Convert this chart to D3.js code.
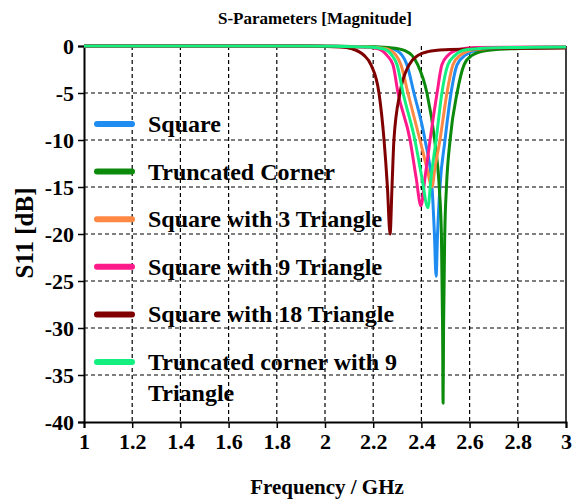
<!DOCTYPE html>
<html>
<head>
<meta charset="utf-8">
<title>S-Parameters [Magnitude]</title>
<script src="https://cdn.jsdelivr.net/npm/d3@7"></script>
<style>
  body { margin: 0; background: #fff; }
  text { font-family: "Liberation Serif", "Times New Roman", serif; font-weight: bold; fill: #000; }
</style>
</head>
<body>
<div id="chart"></div>
<script>
// frequency (GHz), S11 (dB)
var square = [[1,0],[1.9,0],[2.2,-0.1],[2.278,-0.3],[2.32,-1],[2.34,-2],[2.369,-5],[2.415,-10],[2.444,-15],[2.454,-20],[2.461,-24.5],[2.467,-20],[2.477,-15],[2.498,-10],[2.523,-5],[2.548,-2],[2.581,-1],[2.643,-0.4],[2.768,-0.2],[3,-0.1]];
var truncCorner = [[1,0],[1.9,0],[2.2,-0.08],[2.278,-0.2],[2.332,-0.5],[2.361,-1],[2.385,-2],[2.423,-5],[2.455,-10],[2.474,-15],[2.483,-20],[2.488,-30],[2.49,-38],[2.492,-30],[2.497,-20],[2.504,-15],[2.519,-10],[2.548,-5],[2.577,-2],[2.61,-1],[2.664,-0.5],[2.768,-0.3],[3,-0.15]];
var sq3 = [[1,0],[1.9,0],[2.18,-0.1],[2.253,-0.3],[2.295,-1],[2.315,-2],[2.344,-5],[2.394,-10],[2.423,-13],[2.444,-15],[2.456,-13],[2.477,-10],[2.506,-5],[2.531,-2],[2.56,-1],[2.618,-0.4],[2.726,-0.2],[3,-0.1]];
var sq9 = [[1,0],[1.9,0],[2.15,-0.1],[2.22,-0.3],[2.257,-1],[2.282,-2],[2.303,-5],[2.353,-10],[2.378,-14],[2.398,-17],[2.415,-14],[2.436,-10],[2.465,-5],[2.485,-2],[2.51,-1],[2.552,-0.4],[2.62,-0.15],[3,-0.1]];
var sq18 = [[1,0],[1.9,0],[2.062,-0.1],[2.112,-0.3],[2.162,-1],[2.191,-2],[2.224,-5],[2.245,-10],[2.259,-15],[2.27,-20],[2.278,-15],[2.286,-10],[2.311,-5],[2.349,-2],[2.386,-1],[2.427,-0.6],[2.498,-0.4],[2.643,-0.3],[3,-0.2]];
var trunc9 = [[1,0],[1.9,0],[2.17,-0.1],[2.241,-0.3],[2.278,-1],[2.299,-2],[2.324,-5],[2.373,-10],[2.402,-14],[2.427,-17.2],[2.44,-14],[2.461,-10],[2.485,-5],[2.51,-2],[2.539,-1],[2.585,-0.4],[2.685,-0.2],[3,-0.1]];

var seriesNames = ["Square", "Truncated Corner", "Square with 3 Triangle", "Square with 9 Triangle", "Square with 18 Triangle", "Truncated corner with 9 Triangle"];
var seriesData = [square, truncCorner, sq3, sq9, sq18, trunc9];
var seriesColors = ["#1f8cf2", "#0b8a0b", "#ff8844", "#ff1a8c", "#800000", "#14f080"];

var xTicks = [1, 1.2, 1.4, 1.6, 1.8, 2, 2.2, 2.4, 2.6, 2.8, 3];
var yTicks = [0, -5, -10, -15, -20, -25, -30, -35, -40];

var W = 575, H = 500;
var plotLeft = 84, plotRight = 566, plotTop = 46, plotBottom = 422;

var svg = d3.select("#chart").append("svg")
    .attr("width", W)
    .attr("height", H);

var x = d3.scaleLinear().domain([1, 3]).range([plotLeft, plotRight]);
var y = d3.scaleLinear().domain([-40, 0]).range([plotBottom, plotTop]);

// dashed grid
svg.append("g").selectAll("line")
    .data(xTicks.slice(1, -1))
    .enter().append("line")
    .attr("x1", function(d) { return x(d); })
    .attr("x2", function(d) { return x(d); })
    .attr("y1", plotTop)
    .attr("y2", plotBottom)
    .attr("stroke", "#000")
    .attr("stroke-width", 1.2)
    .attr("stroke-dasharray", "4,3");

svg.append("g").selectAll("line")
    .data(yTicks.slice(1, -1))
    .enter().append("line")
    .attr("x1", plotLeft)
    .attr("x2", plotRight)
    .attr("y1", function(d) { return y(d); })
    .attr("y2", function(d) { return y(d); })
    .attr("stroke", "#000")
    .attr("stroke-width", 1.2)
    .attr("stroke-dasharray", "4,3");

// right frame
svg.append("line")
    .attr("x1", plotRight).attr("x2", plotRight)
    .attr("y1", plotTop).attr("y2", plotBottom)
    .attr("stroke", "#000")
    .attr("stroke-width", 1.5);

var xAxis = d3.axisBottom(x)
    .tickValues(xTicks)
    .tickSize(6)
    .tickPadding(5)
    .tickFormat(function(d) { return d; });
var yAxis = d3.axisLeft(y)
    .tickValues(yTicks)
    .tickSize(6)
    .tickPadding(4)
    .tickFormat(function(d) { return d; });

var gx = svg.append("g")
    .attr("transform", "translate(0," + plotBottom + ")")
    .call(xAxis);
var gy = svg.append("g")
    .attr("transform", "translate(" + plotLeft + ",0)")
    .call(yAxis);

[gx, gy].forEach(function(g) {
    g.select(".domain").attr("stroke-width", 2);
    g.selectAll(".tick line").attr("stroke-width", 1.5);
    g.selectAll(".tick text")
        .style("font-family", "Liberation Serif, serif")
        .style("font-weight", "bold")
        .style("font-size", "22px")
        .attr("fill", "#000");
});

// curves
var line = d3.line()
    .x(function(d) { return x(d[0]); })
    .y(function(d) { return y(d[1]); })
    .curve(d3.curveMonotoneX);

svg.append("g").selectAll("path")
    .data(seriesData)
    .enter().append("path")
    .attr("d", function(d) { return line(d); })
    .attr("fill", "none")
    .attr("stroke", function(d, i) { return seriesColors[i]; })
    .attr("stroke-width", 3)
    .attr("stroke-linejoin", "round");

// titles
svg.append("text")
    .attr("x", 315)
    .attr("y", 24)
    .attr("text-anchor", "middle")
    .style("font-size", "17px")
    .text("S-Parameters [Magnitude]");

svg.append("text")
    .attr("x", 327)
    .attr("y", 494)
    .attr("text-anchor", "middle")
    .style("font-size", "21px")
    .text("Frequency / GHz");

svg.append("text")
    .attr("transform", "translate(33,233) rotate(-90)")
    .attr("text-anchor", "middle")
    .style("font-size", "25px")
    .text("S11 [dB]");

// legend
var legend = svg.append("g").selectAll("g")
    .data(seriesNames)
    .enter().append("g")
    .attr("transform", function(d, i) { return "translate(0," + (124 + i * 47.6) + ")"; });

legend.append("line")
    .attr("x1", 97)
    .attr("x2", 132)
    .attr("y1", 0)
    .attr("y2", 0)
    .attr("stroke", function(d, i) { return seriesColors[i]; })
    .attr("stroke-width", 6)
    .attr("stroke-linecap", "round");

legend.append("text")
    .attr("x", 148)
    .attr("y", 8)
    .style("font-size", "24px")
    .each(function(d) {
        var t = d3.select(this);
        var parts = d === "Truncated corner with 9 Triangle" ? ["Truncated corner with 9", "Triangle"] : [d];
        parts.forEach(function(p, k) {
            t.append("tspan")
                .attr("x", 148)
                .attr("dy", k === 0 ? 0 : 31)
                .text(p);
        });
    });
</script>
</body>
</html>
